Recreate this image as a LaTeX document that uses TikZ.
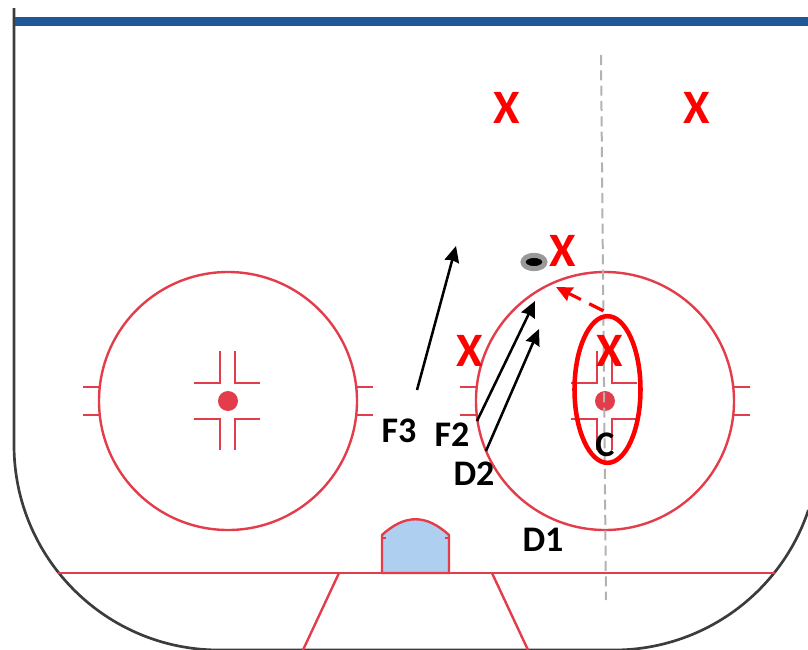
\documentclass[tikz,border=0pt]{standalone}
\usepackage{fontspec}
\setmainfont{Carlito}
\usetikzlibrary{shapes.geometric, arrows.meta, positioning}
\definecolor{rinkred}{RGB}{227, 60, 75}
\definecolor{barblue}{RGB}{31, 87, 153}
\definecolor{creaseblue}{RGB}{175, 207, 240}
\definecolor{boardgray}{RGB}{60, 60, 60}
\definecolor{markred}{RGB}{255, 0, 0}

\begin{document}
\begin{tikzpicture}[
    x=0.75pt, y=-0.75pt, >=stealth,
    rinkline/.style={draw=rinkred, line width=1.8pt},
    faceoff/.style={circle, draw=rinkred, line width=1.8pt, minimum size=193.5pt, inner sep=0pt},
    facedot/.style={circle, fill=rinkred, minimum size=15pt, inner sep=0pt},
    markx/.style={text=markred, font=\bfseries\fontsize{36}{36}\selectfont, inner sep=0pt},
    player/.style={text=black, font=\bfseries\fontsize{27}{27}\selectfont, inner sep=0pt},
    line/.style={draw, -{Stealth[length=12pt,width=11pt,inset=1pt]}, line width=1.9pt, black}
  ]
    \useasboundingbox (0,0) rectangle (808,650);
    % boards
    \draw[boardgray, line width=2pt] (14,8) -- (14,445) arc[start angle=180, end angle=90, radius=205] -- (614,650) arc[start angle=90, end angle=18.5, radius=205];
    \fill[barblue] (15,17) rectangle (808,26);

    % faceoff circles
    \node (left_circle) [faceoff] at (228,401) {};
    \node (right_circle) [faceoff] at (605,401) {};
    \node (left_dot) [facedot] at (228,401) {};
    \node (right_dot) [facedot] at (605,401) {};
    \foreach \cx in {228,605} {
      \begin{scope}[shift={(\cx,401)}]
        \draw[rinkline] (-8,-50) -- (-8,-18) -- (-34,-18);
        \draw[rinkline] (7,-50) -- (7,-18) -- (32,-18);
        \draw[rinkline] (-8,49) -- (-8,18) -- (-34,18);
        \draw[rinkline] (7,49) -- (7,18) -- (32,18);
        \draw[rinkline] (-145,-14) -- (-129,-14) (-145,14) -- (-129,14);
        \draw[rinkline] (129,-14) -- (145,-14) (129,14) -- (145,14);
      \end{scope}
    }

    % goal line and crease
    \draw[rinkline] (58,573) -- (775,573);
    \draw[rinkline] (339,573) -- (303,650);
    \draw[rinkline] (492,573) -- (528,650);
    \draw[rinkline, fill=creaseblue] (382,573) -- (382,535) .. controls (405,514) and (426,514) .. (449,535) -- (449,573) -- cycle;
    \draw[rinkline] (382,538) -- (386,538) (449,538) -- (445,538);

    % centre line
    \draw[gray!60, line width=1.5pt, dash pattern=on 7.5pt off 4pt] (601,55) -- (606,600);

    % puck
    \node (puck) [ellipse, draw=gray!80, fill=black, line width=3.75pt, minimum width=16.5pt, minimum height=10pt, inner sep=0pt] at (534,262) {};

    % players
    \node (x_a) [markx] at (506.5,108) {X};
    \node (x_b) [markx] at (696.5,108) {X};
    \node (x_c) [markx] at (562.5,251) {X};
    \node (x_d) [markx] at (469.5,351) {X};
    \node (x_e) [markx] at (609.5,351) {X};
    \node (f3) [player] at (399,431) {F3};
    \node (f2) [player] at (452,435) {F2};
    \node (d2) [player] at (474,474) {D2};
    \node (c_label) [player] at (605,445) {C};
    \node (d1) [player] at (543,540) {D1};

    % centre ellipse
    \node (c_ring) [ellipse, draw=markred, line width=3.4pt, minimum width=49.5pt, minimum height=110pt, inner sep=0pt] at (607.5,389.5) {};

    % moves
    \coordinate (f3_from) at (417,390);
    \coordinate (f3_to) at (456,246);
    \coordinate (f2_from) at (477,421);
    \coordinate (f2_to) at (535,301);
    \coordinate (d2_from) at (486,451);
    \coordinate (d2_to) at (539,329);
    \coordinate (pass_to) at (556,287);
    \draw[line] (f3_from) -- (f3_to);
    \draw[line] (f2_from) -- (f2_to);
    \draw[line] (d2_from) -- (d2_to);
    \draw[-{Stealth[length=12pt,width=11pt,inset=1pt]}, markred, line width=2.4pt, dash pattern=on 12pt off 7pt] (c_ring.north) ++(-4,-3) -- (pass_to);
  \end{tikzpicture}
\end{document}
